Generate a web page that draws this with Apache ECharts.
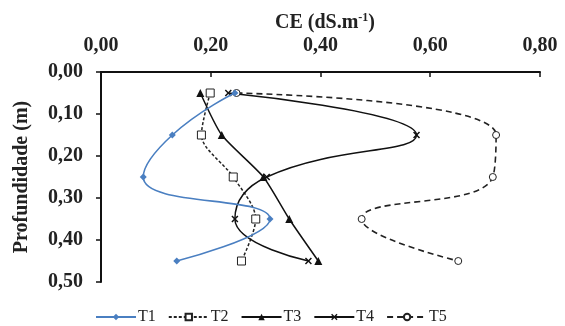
<!DOCTYPE html>
<html><head><meta charset="utf-8">
<script src="https://cdn.jsdelivr.net/npm/echarts@6/dist/echarts.min.js"></script>
<style>html,body{margin:0;padding:0;background:#fff}#c{width:565px;height:326px}</style>
</head><body><div id="c"></div>
<script>
var depths = [0.05, 0.15, 0.25, 0.35, 0.45];
var T1 = [0.244, 0.130, 0.077, 0.308, 0.138];
var T2 = [0.199, 0.183, 0.241, 0.282, 0.256];
var T3 = [0.181, 0.220, 0.296, 0.343, 0.396];
var T4 = [0.232, 0.575, 0.302, 0.244, 0.378];
var T5 = [0.247, 0.720, 0.714, 0.475, 0.651];
var seriesNames = ['T1', 'T2', 'T3', 'T4', 'T5'];
var xTicks = [0, 0.2, 0.4, 0.6, 0.8];
var yTicks = [0, 0.1, 0.2, 0.3, 0.4, 0.5];

var FONT = '"Liberation Serif", "Times New Roman", serif';
function pairs(vals) { return vals.map(function (v, i) { return [v, depths[i]]; }); }
function fmt(v) { return v.toFixed(2).replace('.', ','); }
var xPath = 'path://M0,1.5L1.5,0L5,3.5L8.5,0L10,1.5L6.5,5L10,8.5L8.5,10L5,6.5L1.5,10L0,8.5L3.5,5Z';

var chart = echarts.init(document.getElementById('c'));
chart.setOption({
  animation: false,
  backgroundColor: '#fff',
  title: {
    text: 'CE (dS.m{sup|-1})',
    left: 320, top: 7, textAlign: 'center',
    textStyle: {
      fontFamily: FONT, fontWeight: 'bold', fontSize: 20, color: '#222',
      rich: { sup: { fontFamily: FONT, fontWeight: 'bold', fontSize: 12, color: '#222', verticalAlign: 'top', padding: [0, 0, 9, 0] } }
    }
  },
  legend: {
    left: 90, top: 304,
    itemWidth: 40, itemHeight: 8, itemGap: 12,
    textStyle: { fontFamily: FONT, fontSize: 16, color: '#222', padding: [0, 0, 0, -3] },
    data: seriesNames
  },
  grid: { left: 101, right: 25, top: 72, bottom: 44 },
  xAxis: {
    type: 'value', position: 'top', min: 0, max: 0.8, interval: 0.2,
    splitLine: { show: false },
    axisLine: { onZero: false, lineStyle: { color: '#111', width: 2 } },
    axisTick: { inside: true, length: 5, lineStyle: { color: '#111', width: 1.5 } },
    axisLabel: { fontFamily: FONT, fontWeight: 'bold', fontSize: 20, color: '#222', margin: 16,
      formatter: function (v) { return fmt(v); } }
  },
  yAxis: {
    type: 'value', inverse: true, min: 0, max: 0.5, interval: 0.1,
    splitLine: { show: false },
    name: 'Profundidade (m)', nameLocation: 'middle', nameRotate: 90, nameGap: 69,
    nameTextStyle: { fontFamily: FONT, fontWeight: 'bold', fontSize: 20, color: '#222' },
    axisLine: { onZero: false, lineStyle: { color: '#111', width: 2 } },
    axisTick: { inside: false, length: 5, lineStyle: { color: '#111', width: 1.5 } },
    axisLabel: { fontFamily: FONT, fontWeight: 'bold', fontSize: 20, color: '#222', margin: 18,
      formatter: function (v) { return fmt(v); } }
  },
  series: [
    { name: 'T1', type: 'line', smooth: 0.5, data: pairs(T1), z: 5,
      symbol: 'diamond', symbolSize: 7,
      lineStyle: { color: '#4a7fc1', width: 1.6 },
      itemStyle: { color: '#4a7fc1' } },
    { name: 'T2', type: 'line', smooth: 0.3, data: pairs(T2),
      symbol: 'rect', symbolSize: 8,
      lineStyle: { color: '#222', width: 1.5, type: [3, 2] },
      itemStyle: { color: '#fff', borderColor: '#222', borderWidth: 1 } },
    { name: 'T3', type: 'line', smooth: 0.2, data: pairs(T3),
      symbol: 'triangle', symbolSize: 8,
      lineStyle: { color: '#111', width: 1.5 },
      itemStyle: { color: '#111' } },
    { name: 'T4', type: 'line', smooth: 0.5, data: pairs(T4),
      symbol: xPath, symbolSize: 7,
      lineStyle: { color: '#111', width: 1.5 },
      itemStyle: { color: '#111' } },
    { name: 'T5', type: 'line', smooth: 0.5, data: pairs(T5),
      symbol: 'circle', symbolSize: 7,
      lineStyle: { color: '#222', width: 1.6, type: [6, 4] },
      itemStyle: { color: '#fff', borderColor: '#222', borderWidth: 1 } }
  ]
});
</script></body></html>
